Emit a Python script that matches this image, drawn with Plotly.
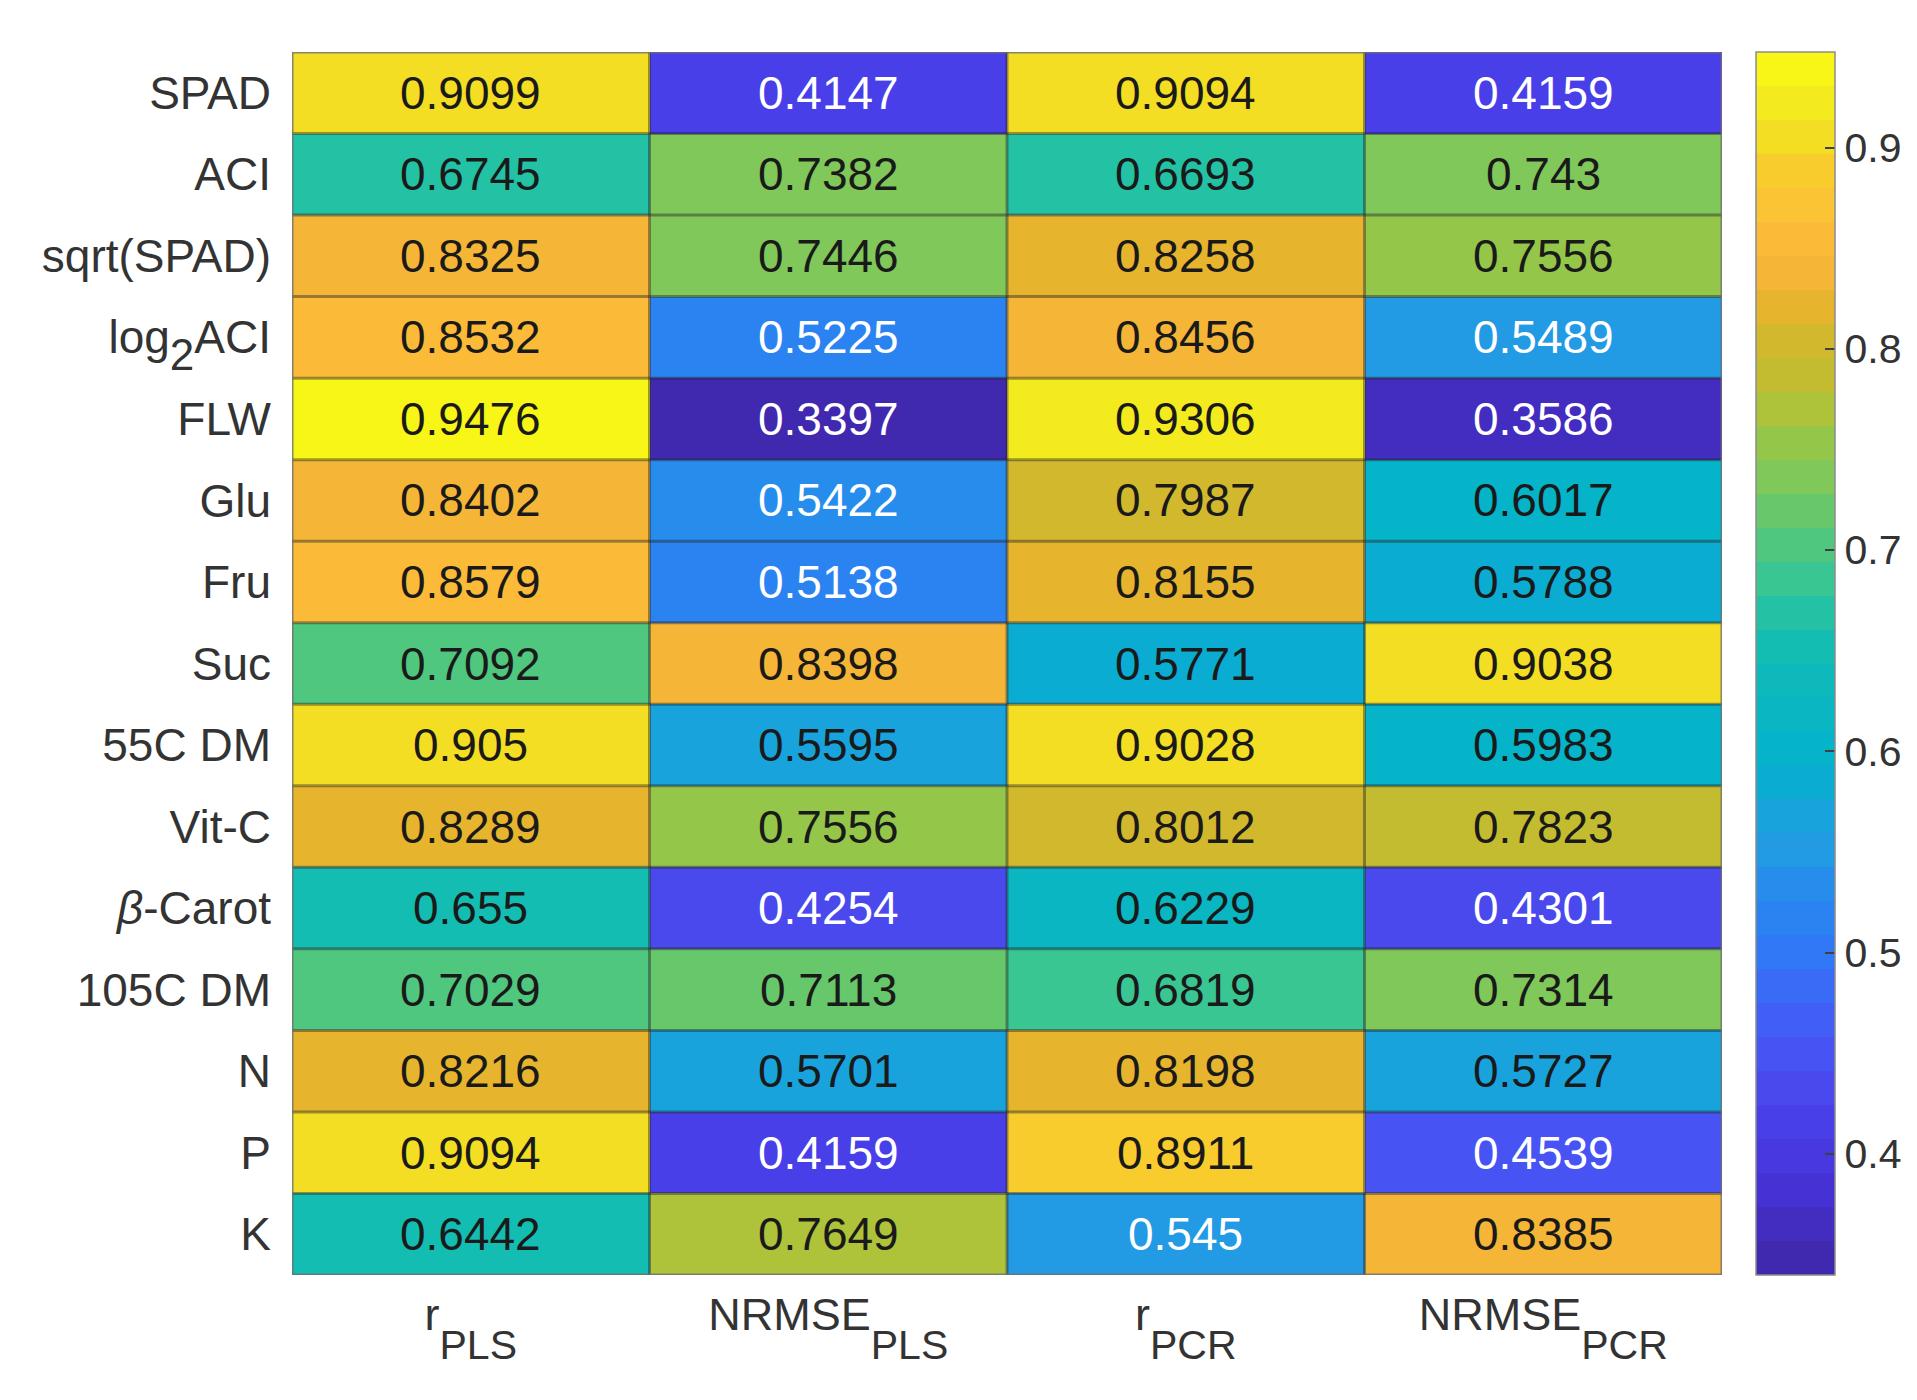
import plotly.graph_objects as go
import numpy as np

def sz(t, s):
    return "<span style='font-size:%dpx'>%s</span>" % (s, t)

rows = ["SPAD", "ACI", "sqrt(SPAD)", "log<sub><sub>" + sz("2", 44) + "</sub></sub>ACI", "FLW", "Glu", "Fru", "Suc",
        "55C DM", "Vit-C", "<i>β</i>-Carot", "105C DM", "N", "P", "K"]
col_main = ["r", "NRMSE", "r", "NRMSE"]
col_sub = ["PLS", "PLS", "PCR", "PCR"]
cols = ["<sup>" + sz(m, 45) + "</sup><sub>" + sz(s, 41) + "</sub>" for m, s in zip(col_main, col_sub)]

r_pls = [0.9099, 0.6745, 0.8325, 0.8532, 0.9476, 0.8402, 0.8579, 0.7092, 0.905, 0.8289, 0.655, 0.7029, 0.8216, 0.9094, 0.6442]
nrmse_pls = [0.4147, 0.7382, 0.7446, 0.5225, 0.3397, 0.5422, 0.5138, 0.8398, 0.5595, 0.7556, 0.4254, 0.7113, 0.5701, 0.4159, 0.7649]
r_pcr = [0.9094, 0.6693, 0.8258, 0.8456, 0.9306, 0.7987, 0.8155, 0.5771, 0.9028, 0.8012, 0.6229, 0.6819, 0.8198, 0.8911, 0.545]
nrmse_pcr = [0.4159, 0.743, 0.7556, 0.5489, 0.3586, 0.6017, 0.5788, 0.9038, 0.5983, 0.7823, 0.4301, 0.7314, 0.5727, 0.4539, 0.8385]

cbar_ticks = [0.4, 0.5, 0.6, 0.7, 0.8, 0.9]

# colour map anchors
anchors = [
    (0.000, (62, 38, 168)), (0.033, (66, 42, 185)), (0.073, (70, 50, 215)),
    (0.122, (72, 62, 232)), (0.172, (74, 80, 242)), (0.221, (62, 100, 247)),
    (0.268, (48, 122, 246)), (0.318, (38, 140, 238)), (0.335, (38, 150, 230)),
    (0.367, (30, 160, 224)), (0.395, (12, 170, 212)), (0.431, (5, 180, 200)),
    (0.481, (12, 184, 188)), (0.522, (22, 190, 175)), (0.551, (42, 196, 160)),
    (0.580, (65, 199, 140)),
    (0.621, (100, 200, 110)), (0.654, (128, 200, 88)), (0.690, (155, 198, 68)),
    (0.724, (190, 190, 50)), (0.757, (205, 185, 45)), (0.790, (230, 180, 45)),
    (0.833, (252, 182, 60)), (0.873, (250, 195, 52)), (0.905, (248, 205, 45)),
    (0.935, (242, 225, 35)), (0.965, (245, 238, 28)), (1.000, (249, 251, 20)),
]
apos = np.array([a[0] for a in anchors])
acol = np.array([a[1] for a in anchors], dtype=float)

def cmap(t):
    return tuple(int(round(np.interp(t, apos, acol[:, c]))) for c in range(3))

N = 36
colorscale = []
for k in range(N):
    c = cmap((k + 0.5) / N)
    s = "rgb(%d,%d,%d)" % c
    colorscale.append([k / N, s])
    colorscale.append([(k + 1) / N, s])

series = [r_pls, nrmse_pls, r_pcr, nrmse_pcr]
z = np.array(series).T  # rows x cols
zmin, zmax = float(z.min()), float(z.max())

nr, nc = len(rows), len(cols)
xs = list(range(nc))
ys = list(range(nr))

fig = go.Figure(go.Heatmap(
    z=z, x=xs, y=ys, zmin=zmin, zmax=zmax, colorscale=colorscale,
    showscale=True, hoverinfo="skip",
    colorbar=dict(
        x=1.0237, xanchor="left", xpad=0, y=0.5, yanchor="middle", ypad=0,
        len=1.0, lenmode="fraction", thickness=79,
        outlinewidth=1.5, outlinecolor="#8c8c8c",
        tickvals=cbar_ticks, ticktext=[str(v) for v in cbar_ticks],
        ticks="inside", ticklen=10, tickwidth=2, tickcolor="#404040",
        tickfont=dict(family="Liberation Sans", size=41, color="#333333"),
    ),
))

THRESH = 0.555
for i in range(nr):
    for j in range(nc):
        v = z[i, j]
        fig.add_annotation(
            x=xs[j], y=ys[i], text=format(v, "g"), showarrow=False,
            font=dict(family="Liberation Sans", size=46,
                      color="#ffffff" if v < THRESH else "#1a1a1a"),
        )

grid = "rgba(40,40,40,0.45)"
for j in range(1, nc):
    fig.add_shape(type="line", xref="x", yref="y", x0=j - 0.5, x1=j - 0.5,
                  y0=-0.5, y1=nr - 0.5, line=dict(color=grid, width=3))
for i in range(1, nr):
    fig.add_shape(type="line", xref="x", yref="y", x0=-0.5, x1=nc - 0.5,
                  y0=i - 0.5, y1=i - 0.5, line=dict(color=grid, width=3))
fig.add_shape(type="rect", xref="x", yref="y", x0=-0.5, x1=nc - 0.5,
              y0=-0.5, y1=nr - 0.5, line=dict(color="rgba(110,110,110,0.8)", width=3))

fig.update_layout(
    width=1917, height=1400,
    margin=dict(l=284, r=199, t=44, b=133),
    paper_bgcolor="white", plot_bgcolor="white",
    font=dict(family="Liberation Sans", size=46, color="#333333"),
)
fig.update_xaxes(
    tickvals=xs, ticktext=cols, range=[-0.5, nc - 0.5], showgrid=False,
    zeroline=False, ticks="", ticklabelstandoff=27,
    tickfont=dict(family="Liberation Sans", size=46, color="#333333"),
)
fig.update_yaxes(
    tickvals=ys, ticktext=rows, range=[nr - 0.5, -0.5], showgrid=False,
    zeroline=False, ticks="", ticklabelstandoff=20,
    tickfont=dict(family="Liberation Sans", size=46, color="#333333"),
)

fig.write_html("out.html")
